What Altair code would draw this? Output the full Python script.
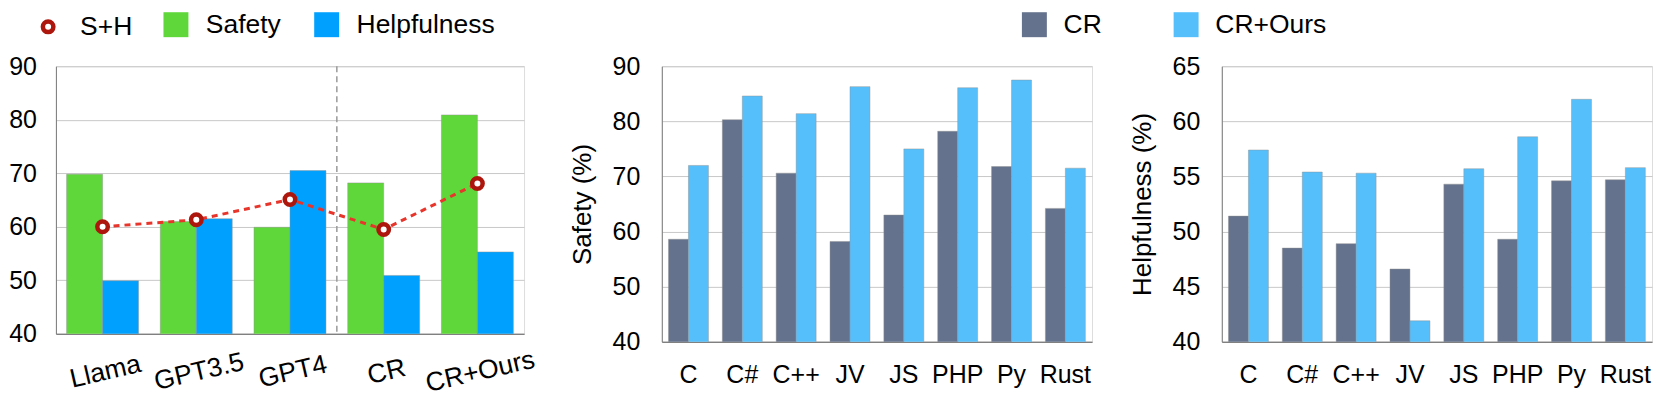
import altair as alt
import pandas as pd

# ---------------- data ----------------
models = ["Llama", "GPT3.5", "GPT4", "CR", "CR+Ours"]
model_safety = [69.8, 61.0, 59.9, 68.2, 80.9]
model_helpful = [49.9, 61.5, 70.5, 50.9, 55.3]
model_sh = [60.0, 61.3, 65.1, 59.5, 68.1]
separator_before = ["CR"]

langs = ["C", "C#", "C++", "JV", "JS", "PHP", "Py", "Rust"]
cr_safety = [58.6, 80.3, 70.6, 58.2, 63.0, 78.2, 71.8, 64.2]
ours_safety = [72.0, 84.6, 81.4, 86.3, 75.0, 86.1, 87.5, 71.5]
cr_help = [51.4, 48.5, 48.9, 46.6, 54.3, 49.3, 54.6, 54.7]
ours_help = [57.4, 55.4, 55.3, 41.9, 55.7, 58.6, 62.0, 55.8]

left_ticks = [40, 50, 60, 70, 80, 90]
safety_ticks = [40, 50, 60, 70, 80, 90]
help_ticks = [40, 45, 50, 55, 60, 65]

# ---------------- style ----------------
FONT = "Liberation Sans"
GREEN = "#5fd73a"
BLUE = "#00a1fe"
SLATE = "#65728d"
LIGHT = "#55bffb"
RED_LINE = "#e8352b"
RED_MARK = "#ad160d"
GRID = "#c8c8c8"
DOMAIN = "#7a7a7a"
BAR_EDGE = "#8f8f8f"

LEFT_W, LEFT_H = 469, 268
PANEL_W, PANEL_H = 431, 276

L_PI, L_PO = 0.232, 0.114
P_PI, P_PO = 0.258, 0.124
L_STEP = LEFT_W / (len(models) - L_PI + 2 * L_PO)
L_HALF = L_STEP * (1 - L_PI) / 2
P_STEP = PANEL_W / (len(langs) - P_PI + 2 * P_PO)
P_HALF = P_STEP * (1 - P_PI) / 2

SH_PATH = ("M-0.39,0A0.39,0.39,0,1,1,0.39,0A0.39,0.39,0,1,1,-0.39,0Z")

LEG_Y = -55
bar_style = dict(clip=True, stroke=BAR_EDGE, strokeOpacity=0.45, strokeWidth=1)


def y_axis(ticks, pad, title=None):
    kw = dict(values=ticks, grid=True, gridColor=GRID, gridWidth=1, domain=True,
              domainColor=DOMAIN, domainWidth=1, ticks=False, tickSize=0,
              labelFontSize=25, labelColor="black", labelFont=FONT, labelPadding=pad)
    if title is not None:
        kw.update(title=title, titleFontSize=26, titleFontWeight="normal",
                  titleColor="black", titleFont=FONT, titlePadding=17)
    else:
        kw.update(title=None)
    return alt.Axis(**kw)


# ---------------- left panel ----------------
safety_df = pd.DataFrame({"model": models, "metric": ["Safety"] * len(models), "value": model_safety})
helpful_df = pd.DataFrame({"model": models, "metric": ["Helpfulness"] * len(models), "value": model_helpful})
sh_df = pd.DataFrame({"model": models, "value": model_sh, "metric": ["S+H"] * len(models)})
sep_df = pd.DataFrame({"model": separator_before})

x_left = alt.X("model:N", scale=alt.Scale(domain=models, paddingInner=L_PI, paddingOuter=L_PO),
               axis=alt.Axis(title=None, labelAngle=347, labelAlign="center", labelBaseline="top",
                             labelFontSize=26.5, labelFont=FONT, labelColor="black", labelPadding=25,
                             ticks=False, tickSize=0, domainColor="#666666", domainWidth=1.2,
                             labelOverlap=False))
y_left = alt.Y("value:Q", scale=alt.Scale(domain=[40, 90], zero=False, nice=False),
               axis=y_axis(left_ticks, 19.5))
color_left = alt.Color("metric:N", scale=alt.Scale(domain=["Safety", "Helpfulness"], range=[GREEN, BLUE]),
                       legend=alt.Legend(orient="none", legendX=107, legendY=LEG_Y, direction="horizontal",
                                         title=None, symbolType="square", symbolSize=625,
                                         symbolStrokeWidth=0, labelFontSize=26.5, labelFont=FONT,
                                         labelColor="black", labelOffset=16.7, columnPadding=32))

safety_bars = alt.Chart(safety_df).mark_bar(width=L_HALF, xOffset=-L_HALF / 2, **bar_style).encode(
    x=x_left, y=y_left, color=color_left)
helpful_bars = alt.Chart(helpful_df).mark_bar(width=L_HALF, xOffset=L_HALF / 2, **bar_style).encode(
    x="model:N", y="value:Q", color="metric:N")

sep = alt.Chart(sep_df).mark_rule(color="#9a9a9a", strokeWidth=1.5, strokeDash=[6, 4],
                                  xOffset=-L_STEP * L_PI / 2).encode(
    x=alt.X("model:N", bandPosition=0),
    y=alt.datum(90),
    y2=alt.datum(40),
)

sh_line = alt.Chart(sh_df).mark_line(color=RED_LINE, strokeWidth=3, strokeDash=[6, 5]).encode(
    x="model:N", y="value:Q")
sh_pts = alt.Chart(sh_df).mark_point(shape="circle", filled=False, fill="white", fillOpacity=1,
                                     strokeWidth=4.5, size=110, opacity=1).encode(
    x="model:N", y="value:Q",
    stroke=alt.Stroke("metric:N", scale=alt.Scale(domain=["S+H"], range=[RED_MARK]),
                      legend=alt.Legend(orient="none", legendX=-23.8, legendY=LEG_Y - 0.5, title=None,
                                        symbolType=SH_PATH, symbolSize=729,
                                        symbolFillColor="white", symbolStrokeWidth=4.5,
                                        labelFontSize=26.5, labelFont=FONT, labelColor="black",
                                        labelOffset=16)))

left = alt.layer(safety_bars, helpful_bars, sep, sh_line, sh_pts).properties(
    width=LEFT_W, height=LEFT_H)


# ---------------- language panels ----------------
def lang_panel(cr_vals, ours_vals, ticks, title, show_legend):
    cr_df = pd.DataFrame({"lang": langs, "series": ["CR"] * len(langs), "value": cr_vals})
    ours_df = pd.DataFrame({"lang": langs, "series": ["CR+Ours"] * len(langs), "value": ours_vals})
    if show_legend:
        leg = alt.Legend(orient="none", legendX=360, legendY=LEG_Y, direction="horizontal",
                         title=None, symbolType="square", symbolSize=625, symbolStrokeWidth=0,
                         labelFontSize=26.5, labelFont=FONT, labelColor="black",
                         labelOffset=16, columnPadding=71)
    else:
        leg = None
    x_enc = alt.X("lang:N", scale=alt.Scale(domain=langs, paddingInner=P_PI, paddingOuter=P_PO),
                  axis=alt.Axis(title=None, labelAngle=0, labelFontSize=25, labelFont=FONT,
                                labelColor="black", labelPadding=20.5, ticks=False, tickSize=0,
                                domainColor="#666666", domainWidth=1.2))
    y_enc = alt.Y("value:Q", scale=alt.Scale(domain=[ticks[0], ticks[-1]], zero=False, nice=False),
                  axis=y_axis(ticks, 22, title))
    c_enc = alt.Color("series:N", scale=alt.Scale(domain=["CR", "CR+Ours"], range=[SLATE, LIGHT]),
                      legend=leg)
    b1 = alt.Chart(cr_df).mark_bar(width=P_HALF, xOffset=-P_HALF / 2, **bar_style).encode(
        x=x_enc, y=y_enc, color=c_enc)
    b2 = alt.Chart(ours_df).mark_bar(width=P_HALF, xOffset=P_HALF / 2, **bar_style).encode(
        x="lang:N", y="value:Q", color="series:N")
    return alt.layer(b1, b2).properties(width=PANEL_W, height=PANEL_H)


mid = lang_panel(cr_safety, ours_safety, safety_ticks, "Safety (%)", True)
right = lang_panel(cr_help, ours_help, help_ticks, "Helpfulness (%)", False)

spacer_df = pd.DataFrame({"s": [0]})
sp1 = alt.Chart(spacer_df).mark_point(opacity=0).properties(width=18, height=1)
sp2 = alt.Chart(spacer_df).mark_point(opacity=0).properties(width=9.4, height=1)

chart = alt.hconcat(left, sp1, mid, sp2, right, spacing=60, bounds="flush").resolve_scale(
    color="independent", stroke="independent", x="independent", y="independent"
).resolve_legend(color="independent").properties(
    padding={"top": 2, "left": 0, "right": 0, "bottom": 0}
).configure_view(strokeWidth=0).configure(font=FONT)

chart.save("out.html", embed_options={"renderer": "svg", "actions": False})
